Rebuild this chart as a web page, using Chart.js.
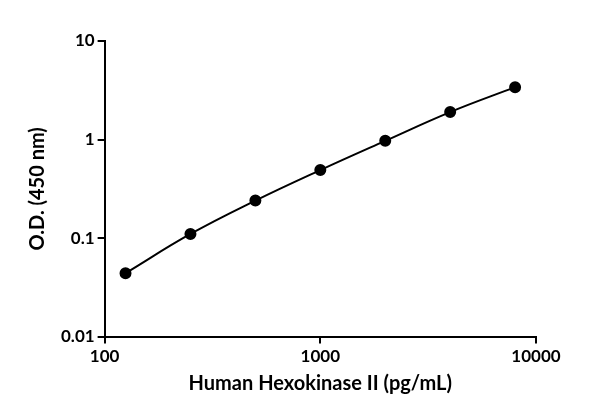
<!DOCTYPE html>
<html><head>
<script src="https://cdn.jsdelivr.net/npm/chart.js@4"></script>
<style>body{margin:0;background:#fff}#c{width:600px;height:414px}</style>
</head><body>
<div id="c"><canvas id="chart"></canvas></div>
<script>
const concentrations = [125, 250, 500, 1000, 2000, 4000, 8000];
const odValues = [0.044, 0.11, 0.24, 0.49, 0.97, 1.9, 3.4];
const xTicks = [100, 1000, 10000];
const yTicks = [0.01, 0.1, 1, 10];

const font = { family: "Lato, 'DejaVu Sans', sans-serif", weight: "bold", size: 17 };

new Chart(document.getElementById("chart"), {
    type: "scatter",
    data: {
        datasets: [{
            data: concentrations.map((x, i) => ({ x: x, y: odValues[i] })),
            showLine: true,
            tension: 0.4,
            borderColor: "#000",
            backgroundColor: "#000",
            borderWidth: 2,
            pointRadius: 5
        }]
    },
    options: {
        responsive: true,
        maintainAspectRatio: false,
        animation: false,
        layout: { padding: { top: 41, right: 64, left: 22, bottom: 14 } },
        plugins: { legend: { display: false }, tooltip: { enabled: false } },
        scales: {
            x: {
                type: "logarithmic", min: 100, max: 10000,
                afterBuildTicks: s => { s.ticks = xTicks.map(v => ({ value: v })); },
                ticks: { color: "#000", font: font, callback: v => String(v), maxRotation: 0 },
                grid: { display: true, drawOnChartArea: false, drawTicks: true, tickLength: 7, tickColor: "#000", lineWidth: 2 },
                border: { color: "#000", width: 2 },
                title: { display: true, text: "Human Hexokinase II (pg/mL)", color: "#000",
                         font: { family: font.family, weight: "bold", size: 20 }, padding: { top: 2 } }
            },
            y: {
                type: "logarithmic", min: 0.01, max: 10,
                afterBuildTicks: s => { s.ticks = yTicks.map(v => ({ value: v })); },
                ticks: { color: "#000", font: font, callback: v => String(v) },
                grid: { display: true, drawOnChartArea: false, drawTicks: true, tickLength: 7, tickColor: "#000", lineWidth: 2 },
                border: { color: "#000", width: 2 },
                title: { display: true, text: "O.D. (450 nm)", color: "#000",
                         font: { family: font.family, weight: "bold", size: 20 }, padding: { bottom: 8 } }
            }
        }
    }
});
</script>
</body></html>
